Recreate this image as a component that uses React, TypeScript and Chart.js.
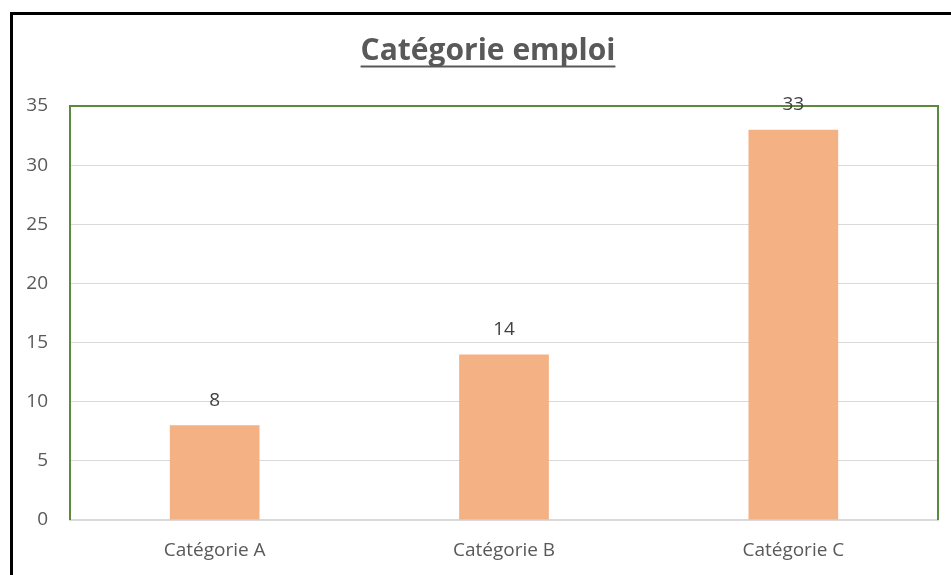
import React, { useEffect, useRef } from "react";
import { Chart, registerables } from "chart.js";

Chart.register(...registerables);

const chartTitle = "Catégorie emploi";
const categories = ["Catégorie A", "Catégorie B", "Catégorie C"];
const values = [8, 14, 33];
const yMin = 0;
const yMax = 35;
const yStep = 5;

const FONT = "'Open Sans', 'Liberation Sans', sans-serif";

const framePlugin = {
  id: "framePlugin",
  afterDraw(chart: any) {
    const ctx = chart.ctx;
    const a = chart.chartArea;
    ctx.save();
    // green plot border (left, top, right)
    ctx.strokeStyle = "#5B8A3C";
    ctx.lineWidth = 2;
    ctx.beginPath();
    ctx.moveTo(a.left, a.bottom);
    ctx.lineTo(a.left, a.top);
    ctx.lineTo(a.right, a.top);
    ctx.lineTo(a.right, a.bottom);
    ctx.stroke();
    // outer black frame (top and left visible)
    ctx.strokeStyle = "#000000";
    ctx.lineWidth = 3;
    ctx.beginPath();
    ctx.moveTo(11.5, chart.height + 5);
    ctx.lineTo(11.5, 13.5);
    ctx.lineTo(chart.width + 5, 13.5);
    ctx.stroke();
    // title
    ctx.fillStyle = "#595959";
    ctx.font = `bold 100px ${FONT}`;
    const w100 = ctx.measureText(chartTitle).width;
    const size = Math.min(30, (100 * 264) / w100);
    ctx.font = `bold ${size}px ${FONT}`;
    const w = ctx.measureText(chartTitle).width;
    const cx = 488;
    ctx.textAlign = "center";
    ctx.textBaseline = "alphabetic";
    ctx.fillText(chartTitle, cx, 60);
    ctx.fillRect(cx - w / 2, 65.5, w, 2);
    // data labels
    const meta = chart.getDatasetMeta(0);
    ctx.fillStyle = "#404040";
    ctx.font = `19px ${FONT}`;
    ctx.textBaseline = "middle";
    meta.data.forEach((bar: any, i: number) => {
      ctx.fillText(String(chart.data.datasets[0].data[i]), bar.x, bar.y - 25);
    });
    ctx.restore();
  },
};

export default function App() {
  const ref = useRef<HTMLCanvasElement>(null);
  useEffect(() => {
    if (!ref.current) return;
    const chart = new Chart(ref.current, {
      type: "bar",
      data: {
        labels: categories,
        datasets: [
          {
            data: values,
            backgroundColor: "#F4B183",
            borderWidth: 0,
            categoryPercentage: 1,
            barPercentage: 0.31,
          },
        ],
      },
      options: {
        responsive: false,
        animation: false,
        layout: { padding: { left: 0, right: 13, top: 106, bottom: 0 } },
        plugins: {
          legend: { display: false },
          title: { display: false },
          tooltip: { enabled: false },
        },
        scales: {
          x: {
            grid: { display: false, drawTicks: false },
            border: { display: true, color: "#D9D9D9", width: 2 },
            ticks: {
              color: "#595959",
              font: { family: FONT, size: 19 },
              padding: 19,
            },
            afterFit: (s: any) => {
              s.height = 55;
            },
          },
          y: {
            min: yMin,
            max: yMax,
            ticks: {
              stepSize: yStep,
              color: "#595959",
              font: { family: FONT, size: 19 },
              padding: 22,
            },
            grid: { color: "#D9D9D9", lineWidth: 1, drawTicks: false },
            border: { display: false },
            afterFit: (s: any) => {
              s.width = 70;
            },
          },
        },
      },
      plugins: [framePlugin],
    });
    return () => chart.destroy();
  }, []);
  return (
    <div style={{ position: "absolute", left: 0, top: 0, width: 951, height: 575, background: "#fff" }}>
      <canvas ref={ref} width={951} height={575} style={{ display: "block" }} />
    </div>
  );
}
